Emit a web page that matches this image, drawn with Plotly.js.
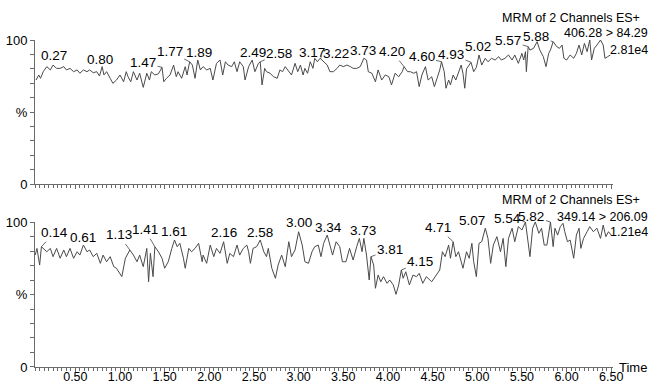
<!DOCTYPE html>
<html>
<head>
<meta charset="utf-8">
<script src="https://cdn.plot.ly/plotly-3.0.1.min.js"></script>
<style>html,body{margin:0;padding:0;background:#fff}#chart{width:650px;height:386px}</style>
</head>
<body>
<div id="chart"></div>
<script>
// ---------- Data ----------
// Top channel: MRM 406.28 > 84.29
const topTime = [0.06,0.09,0.11,0.14,0.18,0.22,0.25,0.29,0.33,0.37,0.40,0.44,0.48,0.52,0.55,0.59,0.63,0.66,0.70,0.74,0.77,0.80,0.82,0.85,0.89,0.92,0.96,1.00,1.04,1.07,1.09,1.12,1.15,1.19,1.22,1.26,1.30,1.33,1.35,1.39,1.43,1.47,1.49,1.52,1.56,1.60,1.63,1.65,1.69,1.73,1.75,1.78,1.81,1.84,1.87,1.90,1.93,1.97,2.01,2.04,2.08,2.12,2.15,2.18,2.21,2.25,2.28,2.31,2.34,2.38,2.40,2.44,2.48,2.51,2.55,2.57,2.59,2.62,2.64,2.68,2.72,2.76,2.79,2.82,2.85,2.89,2.92,2.96,2.99,3.02,3.05,3.07,3.10,3.13,3.16,3.18,3.21,3.24,3.28,3.32,3.35,3.39,3.43,3.46,3.50,3.54,3.58,3.61,3.65,3.69,3.73,3.76,3.78,3.82,3.86,3.89,3.93,3.97,4.01,4.04,4.08,4.12,4.16,4.18,4.22,4.25,4.29,4.32,4.35,4.38,4.42,4.45,4.49,4.52,4.55,4.58,4.60,4.63,4.65,4.68,4.70,4.73,4.76,4.79,4.82,4.84,4.86,4.88,4.93,4.96,4.99,5.02,5.05,5.09,5.12,5.16,5.20,5.24,5.27,5.31,5.35,5.39,5.42,5.46,5.50,5.52,5.54,5.55,5.57,5.59,5.63,5.67,5.70,5.74,5.77,5.80,5.82,5.85,5.89,5.92,5.95,5.97,6.00,6.04,6.08,6.11,6.14,6.17,6.20,6.23,6.26,6.28,6.31,6.34,6.38,6.41,6.43,6.46,6.49];
const topPct = [72.2,75.7,73.4,78.0,81.5,79.2,82.6,80.3,80.3,81.5,79.2,80.3,78.0,79.2,76.9,79.2,78.0,79.2,77.3,78.0,75.0,81.5,75.7,78.0,73.4,69.9,72.2,75.7,71.0,78.0,74.5,71.0,78.0,72.2,76.9,67.1,76.9,72.2,78.0,75.7,76.5,81.0,71.0,73.4,75.7,82.6,74.5,78.0,73.4,81.5,75.7,84.9,82.6,73.4,86.1,79.2,81.5,79.2,80.3,72.2,83.8,86.1,75.7,84.9,82.6,81.5,84.9,78.0,84.9,81.5,72.2,81.5,86.1,78.0,83.8,84.9,68.8,80.3,78.0,76.9,74.5,73.4,79.2,78.0,81.5,78.0,75.7,83.8,78.0,82.6,75.7,80.3,76.9,84.9,80.3,87.3,84.9,87.3,84.9,82.6,78.0,78.0,80.3,82.6,81.5,82.6,81.5,80.3,80.3,81.5,87.3,86.1,78.0,76.9,71.0,79.2,72.2,75.7,74.5,68.8,76.9,74.5,78.0,81.5,78.0,78.0,76.9,78.0,67.6,75.7,81.5,72.2,74.5,67.6,73.4,79.2,84.9,78.0,66.5,72.2,68.8,75.7,72.2,78.0,82.6,76.9,66.5,80.0,84.5,78.0,81.0,89.6,82.6,87.3,84.9,87.3,86.1,88.4,86.1,87.3,89.6,86.1,89.6,83.8,90.7,86.1,91.9,78.0,95.4,93.0,94.2,98.8,93.1,88.4,81.5,90.7,93.1,98.8,95.4,94.2,96.5,87.3,86.1,89.6,87.3,90.7,96.5,89.6,97.7,91.9,100,86.1,94.2,96.5,100,96.5,87.3,88.4,89.6];
const topPeaks = [0.27,0.80,1.47,1.77,1.89,2.49,2.58,3.17,3.22,3.73,4.20,4.60,4.93,5.02,5.57,5.88];
const topHeader = ["MRM of 2 Channels ES+", "406.28 > 84.29", "2.81e4"];

// Bottom channel: MRM 349.14 > 206.09
const botTime = [0.05,0.07,0.10,0.12,0.18,0.22,0.25,0.29,0.33,0.37,0.40,0.44,0.48,0.52,0.55,0.59,0.63,0.66,0.70,0.74,0.78,0.81,0.85,0.89,0.93,0.96,1.02,1.06,1.11,1.15,1.19,1.22,1.26,1.30,1.32,1.34,1.37,1.39,1.43,1.47,1.50,1.54,1.58,1.61,1.64,1.67,1.71,1.73,1.77,1.80,1.84,1.88,1.92,1.93,1.97,2.01,2.05,2.08,2.12,2.16,2.20,2.23,2.27,2.31,2.34,2.38,2.42,2.44,2.46,2.49,2.53,2.57,2.61,2.64,2.66,2.70,2.74,2.77,2.81,2.85,2.89,2.92,2.96,3.00,3.04,3.07,3.11,3.15,3.18,3.22,3.25,3.28,3.32,3.35,3.38,3.42,3.46,3.49,3.53,3.57,3.61,3.65,3.68,3.71,3.73,3.76,3.79,3.81,3.84,3.86,3.89,3.92,3.95,3.99,4.02,4.06,4.09,4.12,4.15,4.17,4.20,4.24,4.28,4.32,4.35,4.39,4.43,4.49,4.55,4.58,4.61,4.64,4.68,4.70,4.73,4.76,4.79,4.82,4.84,4.88,4.91,4.94,4.96,4.99,5.02,5.05,5.09,5.12,5.15,5.18,5.22,5.26,5.29,5.32,5.35,5.39,5.42,5.46,5.50,5.54,5.56,5.59,5.62,5.65,5.69,5.72,5.75,5.78,5.82,5.85,5.87,5.90,5.93,5.96,5.98,6.01,6.04,6.07,6.08,6.11,6.14,6.16,6.19,6.23,6.26,6.30,6.34,6.38,6.41,6.44,6.47,6.50];
const botPct = [77.2,81.8,70.3,83.0,79.5,81.8,76.1,81.8,75.0,80.7,76.1,81.8,75.0,79.5,77.2,84.1,79.5,80.7,76.1,78.4,71.5,77.2,72.6,76.1,69.2,68.1,62.3,75.0,80.7,77.2,72.6,77.2,69.2,81.8,58.8,78.4,62.3,83.0,79.5,75.0,68.1,72.6,81.8,87.6,83.0,85.3,75.0,68.1,81.8,79.5,81.8,85.3,72.6,77.2,71.5,84.1,76.1,81.8,78.4,86.4,71.5,78.4,76.1,84.1,77.2,81.8,84.1,79.5,71.5,81.8,83.0,87.6,79.5,76.1,81.8,68.1,61.2,70.3,77.2,69.2,86.4,76.1,80.7,93.3,84.1,72.6,71.5,79.5,83.0,84.1,76.1,85.3,91.0,84.1,77.2,86.4,83.0,72.6,72.6,81.8,73.8,83.0,88.7,79.5,88.7,77.2,60.0,76.1,70.3,54.3,63.4,58.8,62.3,57.7,60.0,56.6,50.1,56.6,66.9,61.2,65.7,56.6,63.4,62.3,64.6,57.7,62.3,58.8,64.6,66.9,79.5,76.1,84.1,75.0,86.4,76.1,79.5,72.6,68.1,79.5,75.0,85.3,72.6,62.3,85.3,86.4,95.7,88.7,71.5,84.1,89.9,79.5,88.7,69.2,88.7,95.7,86.4,96.8,94.5,100,89.9,76.1,95.7,100,92.2,95.7,84.1,84.1,100,83.0,95.7,91.0,96.8,99.1,93.3,86.4,87.6,79.5,75.0,91.0,95.7,81.8,88.7,93.3,96.8,93.3,95.7,88.7,97.9,89.9,93.3,91.0];
const botPeaks = [0.14,0.61,1.13,1.41,1.61,2.16,2.58,3.00,3.34,3.73,3.81,4.15,4.71,5.07,5.54,5.82];
const botHeader = ["MRM of 2 Channels ES+", "349.14 > 206.09", "1.21e4"];

const xTitle = "Time";
const yTickVals = [0,10,20,30,40,50,60,70,80,90,100];
const yTickText = ["0","","","","","%","","","","","100"];

// ---------- Label placement (pixel offsets of label centre from apex; leader flag) ----------
const topLabelPos = [[1,-10,0],[-2,-7,0],[-19,-5,1],[-20,-10,1],[1,-8,0],[1,-8,0],[19,-8,1],[-3,-6,0],[16,-5,1],[-1,-8,0],[-12,-15,1],[-20,-5,1],[-20,-8,1],[-1,-8,0],[-20,-6,1],[-17,-5,1]];
const botLabelPos = [[13,-14,1],[0,-8,0],[-11,-15,1],[-10,-17,1],[-1,-8,0],[0,-9,0],[0,-7,0],[0,-9,0],[1,-8,0],[-1,-8,0],[19,-7,1],[19,-8,1],[-15,-14,1],[-13,-8,1],[-18,-4,1],[-19,-6,1]];

const FONT = "Liberation Sans, Arial, sans-serif";
const AX = "#6a6a6a";
const LINE = "#4a4a4a";

function apex(times, vals, t) {
  let best = -1, bv = -Infinity;
  for (let i = 0; i < times.length; i++) {
    if (Math.abs(times[i] - t) <= 0.031 && vals[i] > bv) { bv = vals[i]; best = i; }
  }
  if (best < 0) {
    let d = Infinity;
    for (let i = 0; i < times.length; i++) { const dd = Math.abs(times[i]-t); if (dd < d) { d = dd; best = i; } }
  }
  return [times[best], vals[best]];
}

function peakAnnotations(times, vals, peaks, pos, xref, yref) {
  return peaks.map((p, i) => {
    const [ta, va] = apex(times, vals, p);
    const [dx, dy, lead] = pos[i];
    const base = {x: ta, y: va, xref: xref, yref: yref, text: p.toFixed(2),
      font: {family: FONT, size: 13.5, color: "#000"}};
    if (lead) {
      return Object.assign(base, {showarrow: true, ax: dx, ay: dy, arrowhead: 0,
        arrowwidth: 0.8, arrowcolor: "#444", standoff: 0, startstandoff: 0});
    }
    return Object.assign(base, {showarrow: false, xshift: dx, yshift: -dy});
  });
}

function headerAnnotations(lines, fy) {
  const style = {xref: "paper", yref: "paper", showarrow: false, xanchor: "right", yanchor: "middle",
    font: {family: FONT, size: 12.5, color: "#000"}};
  return [
    Object.assign({x: 1.0502, y: fy[0], text: lines[0]}, style),
    Object.assign({x: 1.0640, y: fy[1], text: lines[1]}, style),
    Object.assign({x: 1.0640, y: fy[2], text: lines[2]}, style)
  ];
}

const traces = [
  {x: topTime, y: topPct, xaxis: "x2", yaxis: "y2", type: "scatter", mode: "lines",
   line: {color: LINE, width: 1}, cliponaxis: false, hoverinfo: "skip"},
  {x: botTime, y: botPct, xaxis: "x", yaxis: "y", type: "scatter", mode: "lines",
   line: {color: LINE, width: 1}, cliponaxis: false, hoverinfo: "skip"}
];

const xCommon = {
  range: [0.048, 6.52], tick0: 0, dtick: 0.5, tickformat: ".2f",
  ticks: "outside", ticklen: 4, tickwidth: 1, tickcolor: AX,
  showline: true, linecolor: AX, linewidth: 1, showgrid: false, zeroline: false,
  minor: {tick0: 0, dtick: 0.05, ticks: "outside", ticklen: 3, tickwidth: 1, tickcolor: AX, showgrid: false},
  tickfont: {family: FONT, size: 12.5, color: "#000"}, ticklabelstandoff: -6, fixedrange: true
};
const yCommon = {
  range: [0, 100], tickmode: "array", tickvals: yTickVals, ticktext: yTickText,
  ticks: "outside", ticklen: 4, tickwidth: 1, tickcolor: AX,
  showline: true, linecolor: AX, linewidth: 1, showgrid: false, zeroline: false,
  tickfont: {family: FONT, size: 13, color: "#000"}, fixedrange: true
};

const annotations = []
  .concat(peakAnnotations(topTime, topPct, topPeaks, topLabelPos, "x2", "y2"))
  .concat(peakAnnotations(botTime, botPct, botPeaks, botLabelPos, "x", "y"))
  .concat(headerAnnotations(topHeader, [1.0673, 1.0214, 0.9694]))
  .concat(headerAnnotations(botHeader, [0.5107, 0.4587, 0.4128]))
  .concat([{xref: "paper", yref: "paper", x: 1.007, y: 0.0, xanchor: "left", yanchor: "middle",
    showarrow: false, text: xTitle, font: {family: FONT, size: 13, color: "#000"}}]);

const layout = {
  width: 650, height: 386,
  margin: {l: 35, r: 37, t: 40, b: 19},
  paper_bgcolor: "#fff", plot_bgcolor: "#fff",
  showlegend: false,
  font: {family: FONT, size: 13, color: "#000"},
  xaxis: Object.assign({}, xCommon, {domain: [0, 1], anchor: "y"}),
  xaxis2: Object.assign({}, xCommon, {domain: [0, 1], anchor: "y2", matches: "x", showticklabels: false}),
  yaxis: Object.assign({}, yCommon, {domain: [0, 0.4434], anchor: "x"}),
  yaxis2: Object.assign({}, yCommon, {domain: [0.5596, 1], anchor: "x2"}),
  annotations: annotations
};

Plotly.newPlot("chart", traces, layout, {displayModeBar: false, staticPlot: true});
</script>
</body>
</html>
